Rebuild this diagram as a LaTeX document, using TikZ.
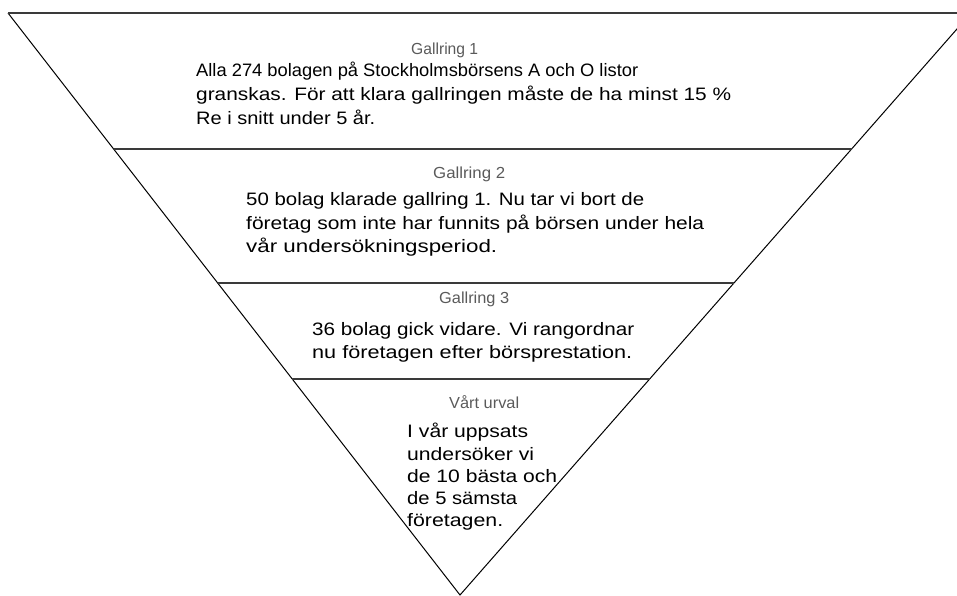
\documentclass[tikz,border=0pt]{standalone}
\usepackage{fontspec}
\usepackage{graphicx}
\setmainfont{Liberation Sans}
\usetikzlibrary{calc}
\definecolor{titlegray}{HTML}{5A5A5A}
\definecolor{bandline}{HTML}{3A3A3A}
\newcommand\fitw[2]{\resizebox{#1pt}{\height}{#2}}
\tikzset{
  edge/.style={draw=black, line width=1pt},
  topline/.style={draw=bandline, line width=2.4pt},
  band/.style={draw=bandline, line width=1.8pt},
  title/.style={anchor=base west, inner sep=0pt, text=titlegray, font=\fontsize{16}{19}\selectfont},
  body/.style={anchor=base west, inner sep=0pt, text=black, font=\fontsize{18}{22}\selectfont},
}
\begin{document}
\begin{tikzpicture}[x=1pt,y=-1pt]
\useasboundingbox (0,0) rectangle (957,595);
\begin{scope}
\clip (0,0) rectangle (957,595);
\coordinate (L) at (8,13);
\coordinate (R) at (971,13);
\coordinate (A) at (460,595);
\coordinate (b1l) at ($(L)!0.2337!(A)$);
\coordinate (b1r) at ($(R)!0.2337!(A)$);
\coordinate (b2l) at ($(L)!0.4639!(A)$);
\coordinate (b2r) at ($(R)!0.4639!(A)$);
\coordinate (b3l) at ($(L)!0.6289!(A)$);
\coordinate (b3r) at ($(R)!0.6289!(A)$);
\draw[edge] (L) -- (A) -- (R);
\draw[topline] (L) -- (R);
\draw[band] (b1l) -- (b1r);
\draw[band] (b2l) -- (b2r);
\draw[band] (b3l) -- (b3r);
\end{scope}

\node[title] (t1) at (411,54) {\fitw{67}{Gallring 1}};
\node[body] (g1a) at (196,76) {\fitw{442}{Alla 274 bolagen på Stockholmsbörsens A och O listor}};
\node[body] (g1b) at (196,100) {\fitw{535}{granskas. För att klara gallringen måste de ha minst 15 \%}};
\node[body] (g1c) at (196,124) {\fitw{179}{Re i snitt under 5 år.}};

\node[title] (t2) at (433,178) {\fitw{72}{Gallring 2}};
\node[body] (g2a) at (246,205) {\fitw{398}{50 bolag klarade gallring 1. Nu tar vi bort de}};
\node[body] (g2b) at (246,229) {\fitw{458}{företag som inte har funnits på börsen under hela}};
\node[body] (g2c) at (246,252) {\fitw{251}{vår undersökningsperiod.}};

\node[title] (t3) at (439,303) {\fitw{70}{Gallring 3}};
\node[body] (g3a) at (312,335) {\fitw{322}{36 bolag gick vidare. Vi rangordnar}};
\node[body] (g3b) at (312,358) {\fitw{320}{nu företagen efter börsprestation.}};

\node[title] (t4) at (449,408) {\fitw{70}{Vårt urval}};
\node[body] (v1) at (407,437) {\fitw{121}{I vår uppsats}};
\node[body] (v2) at (407,460) {\fitw{127}{undersöker vi}};
\node[body] (v3) at (407,482) {\fitw{150}{de 10 bästa och}};
\node[body] (v4) at (407,504) {\fitw{110}{de 5 sämsta}};
\node[body] (v5) at (407,526) {\fitw{96}{företagen.}};
\end{tikzpicture}
\end{document}
